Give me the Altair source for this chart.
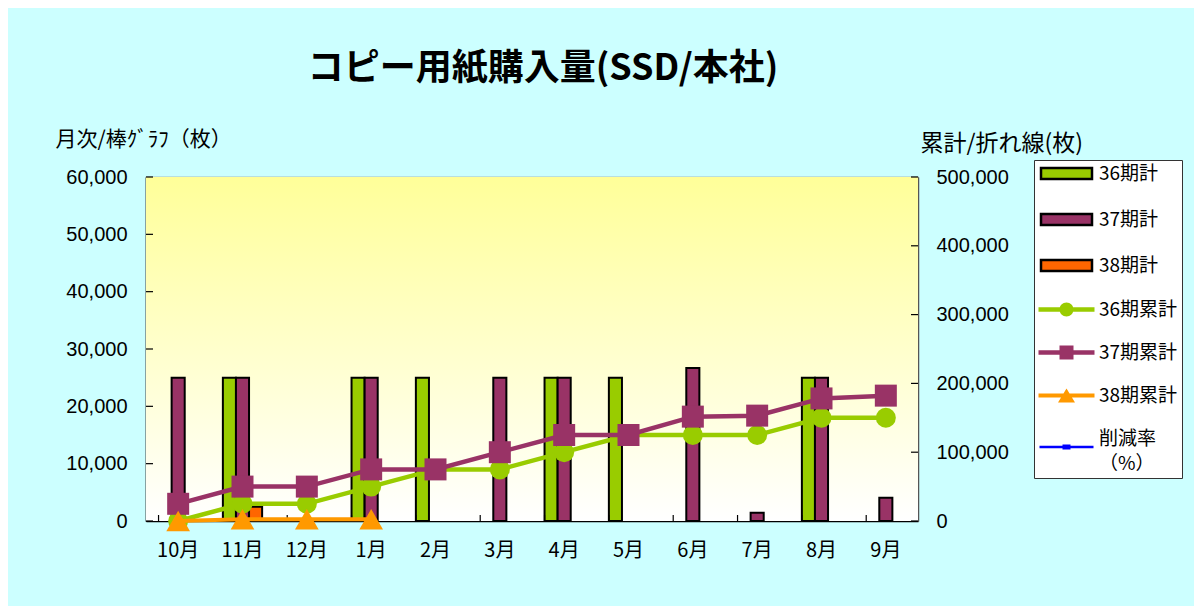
import altair as alt
import pandas as pd

# ---------------- data ----------------
months = ["10月", "11月", "12月", "1月", "2月", "3月", "4月", "5月", "6月", "7月", "8月", "9月"]

bar_series = ["36期計", "37期計", "38期計"]
monthly_36 = [None, 25000, None, 25000, 25000, None, 25000, 25000, None, None, 25000, None]
monthly_37 = [25000, 25000, None, 25000, None, 25000, 25000, None, 26700, 1450, 25000, 4070]
monthly_38 = [None, 2500, None, None, None, None, None, None, None, None, None, None]

line_series = ["36期累計", "37期累計", "38期累計"]
cumul_36 = [0, 25000, 25000, 50000, 75000, 75000, 100000, 125000, 125000, 125000, 150000, 150000]
cumul_37 = [25000, 50000, 50000, 75000, 75000, 100000, 125000, 125000, 151700, 153150, 178150, 182220]
cumul_38 = [0, 2500, 2500, 2500, None, None, None, None, None, None, None, None]

rate_label = "削減率（%）"

left_ticks = [0, 10000, 20000, 30000, 40000, 50000, 60000]
right_ticks = [0, 100000, 200000, 300000, 400000, 500000]

bar_colors = ["#99CC00", "#993366", "#FF6600"]
line_colors = ["#99CC00", "#993366", "#FF9900"]
rate_color = "#0000FF"

title_text = "コピー用紙購入量(SSD/本社)"
left_title = "月次/棒ｸﾞﾗﾌ（枚）"
right_title = "累計/折れ線(枚)"

# ---------------- tables ----------------
rows = []
for s, vals in zip(bar_series, [monthly_36, monthly_37, monthly_38]):
    for m, v in zip(months, vals):
        if v is not None:
            rows.append({"month": m, "series": s, "value": v})
bar_df = pd.DataFrame(rows)


def line_df(vals):
    return pd.DataFrame([{"month": m, "value": v} for m, v in zip(months, vals) if v is not None])


JP = "Noto Sans CJK JP"
NUM = "Liberation Sans"
W, H = 772, 344

legend_labels = bar_series + line_series + [rate_label]
legend_colors = bar_colors + line_colors + [rate_color]

# legend symbol paths (pixel units divided by symbol scale)
SYM_SIZE = 289
S = (SYM_SIZE ** 0.5) / 2


def f(v):
    return f"{v / S:.4f}"


def rect(x0, y0, x1, y1):
    return f"M{f(x0)},{f(y0)}H{f(x1)}V{f(y1)}H{f(x0)}Z"


def circle(r):
    return f"M{f(r)},0A{f(r)},{f(r)},0,1,1,{f(-r)},0A{f(r)},{f(r)},0,1,1,{f(r)},0Z"


def tri(w, h):
    return f"M0,{f(-h)}L{f(w)},{f(h)}H{f(-w)}Z"


LAST_DY = -4.5
bar_path = rect(-25.5, -5.5, 25.5, 5.5)
line_bar = rect(-28, -2.25, 28, 2.25)
paths = [bar_path, bar_path, bar_path,
         line_bar + " " + circle(7),
         line_bar + " " + rect(-7, -7, 7, 7),
         rect(-28, -2, 28, 2) + " " + tri(8.5, 7),
         rect(-27, -1.2 + LAST_DY, 27, 1.2 + LAST_DY) + " " + rect(-4, -2.5 + LAST_DY, 4, 2.5 + LAST_DY)]


def js_arr(items):
    return "[" + ",".join("'" + str(i) + "'" for i in items) + "]"


IDX = f"indexof({js_arr(legend_labels)}, datum.value)"

legend = alt.Legend(
    title=None, orient="none", legendX=888, legendY=-17,
    padding=4, fillColor="white", strokeColor="#333333",
    symbolSize=SYM_SIZE, symbolOffset=19, labelOffset=23, rowPadding=23,
    labelFont=JP, labelFontSize=19, labelColor="black", labelLimit=0,
    labelExpr=f"datum.label == '{rate_label}' ? ['削減率','（%）'] : datum.label",
    labelBaseline=alt.ExprRef(expr=f"datum.value == '{rate_label}' ? 'line-bottom' : 'middle'"),
    symbolType=alt.ExprRef(expr=f"{js_arr(paths)}[{IDX}]"),
    symbolFillColor=alt.ExprRef(expr=f"{js_arr(legend_colors)}[{IDX}]"),
    symbolStrokeColor=alt.ExprRef(expr=f"{IDX} < 3 ? 'black' : 'transparent'"),
    symbolStrokeWidth=alt.ExprRef(expr=f"{IDX} < 3 ? 2.5 : 0"),
    symbolOpacity=1,
)

xs = alt.Scale(domain=months, paddingInner=0.39, paddingOuter=0.195)
ls = alt.Scale(domain=[0, 60000])
rs = alt.Scale(domain=[0, 500000])

x_axis = alt.Axis(title=None, labelFont=JP, labelFontSize=20, labelColor="black",
                  labelPadding=19, labelAngle=0, ticks=False, tickSize=0,
                  domainColor="black", domainWidth=1.5, grid=False)
left_axis = alt.Axis(values=left_ticks, format=",d", title=left_title, titleAngle=0,
                     titleAlign="left", titleBaseline="middle", titleX=-91, titleY=-38,
                     titleFont=JP, titleFontSize=21, titleFontWeight="normal", titleColor="black",
                     labelFont=NUM, labelFontSize=20, labelColor="black", labelPadding=19,
                     ticks=False, tickSize=0, domainColor="black", domainWidth=1.5, grid=False)
right_axis = alt.Axis(orient="right", values=right_ticks, format=",d", title=right_title,
                      titleAngle=0, titleAlign="left", titleBaseline="middle", titleX=2, titleY=-34,
                      titleFont=JP, titleFontSize=23, titleFontWeight="normal", titleColor="black",
                      labelFont=NUM, labelFontSize=20, labelColor="black", labelPadding=18,
                      ticks=False, tickSize=0, domainColor="#555555", domainWidth=1.5, grid=False)

bg = alt.Chart(pd.DataFrame({"a": [0]})).mark_rect(
    fill=alt.Gradient(gradient="linear", x1=0, x2=0, y1=0, y2=1,
                      stops=[alt.GradientStop(color="#FFFF99", offset=0),
                             alt.GradientStop(color="#FFFFFF", offset=1)])
).encode(x=alt.value(0), x2=alt.value(W), y=alt.value(0), y2=alt.value(H))

bars = alt.Chart(bar_df).mark_bar(stroke="black", strokeWidth=2, opacity=1).encode(
    x=alt.X("month:N", scale=xs, axis=x_axis),
    xOffset=alt.XOffset("series:N", scale=alt.Scale(domain=bar_series, paddingInner=0, paddingOuter=0)),
    y=alt.Y("value:Q", scale=ls, axis=left_axis),
    color=alt.Color("series:N", scale=alt.Scale(domain=legend_labels, range=legend_colors), legend=legend),
)

left_tick_marks = alt.Chart(pd.DataFrame({"value": left_ticks})).mark_rule(
    color="black", strokeWidth=1.2).encode(
    y=alt.Y("value:Q", scale=ls, axis=left_axis), x=alt.value(0), x2=alt.value(7))

x_tick_marks = alt.Chart(pd.DataFrame({"month": months})).mark_rule(
    color="black", strokeWidth=1.2).encode(
    x=alt.X("month:N", scale=xs, axis=x_axis, bandPosition=0), y=alt.value(H), y2=alt.value(H - 6))

left_layer = alt.layer(bg, bars, left_tick_marks, x_tick_marks)


def line_layer(vals, color, shape, size, width):
    return alt.Chart(line_df(vals)).mark_line(
        color=color, strokeWidth=width,
        point=alt.OverlayMarkDef(shape=shape, size=size, filled=True, color=color, opacity=1),
    ).encode(
        x=alt.X("month:N", scale=xs, axis=x_axis),
        y=alt.Y("value:Q", scale=rs, axis=right_axis),
    )


l36 = line_layer(cumul_36, line_colors[0], "circle", 400, 4.5)
l37 = line_layer(cumul_37, line_colors[1], "square", 484, 4.5)
l38 = line_layer(cumul_38, line_colors[2], "triangle-up", 560, 4)

right_tick_marks = alt.Chart(pd.DataFrame({"value": right_ticks})).mark_rule(
    color="black", strokeWidth=1.2).encode(
    y=alt.Y("value:Q", scale=rs, axis=right_axis), x=alt.value(W), x2=alt.value(W - 7))

right_layer = alt.layer(l36, l37, l38, right_tick_marks)

chart = alt.layer(left_layer, right_layer).resolve_scale(y="independent").properties(
    width=W, height=H,
    title=alt.TitleParams(title_text, font=JP, fontSize=36, fontWeight="bold", color="black",
                          anchor="middle", offset=40, dx=11),
    autosize=alt.AutoSizeParams(type="none"),
    padding={"left": 138, "top": 169, "right": 276, "bottom": 85},
).configure(
    background="#CCFFFF",
    style={"guide-label": {"lineHeight": 25}},
).configure_view(stroke="#808080", strokeWidth=1.2)

chart.save("out.html", embed_options={"renderer": "svg", "actions": False})
